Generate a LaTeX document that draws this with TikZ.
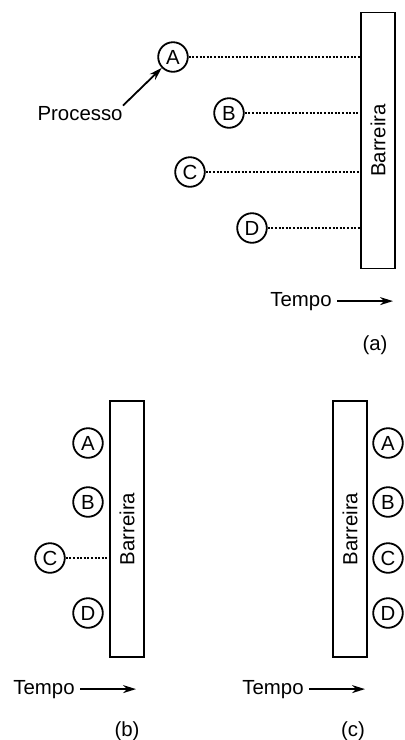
\documentclass[tikz,border=0pt]{standalone}
\usepackage{fontspec}
\setmainfont{Liberation Sans}
\usetikzlibrary{arrows.meta}

\begin{document}
\begin{tikzpicture}[x=0.5pt, y=-0.5pt,
  processo/.style={circle, draw, line width=0.9pt, minimum size=14.8pt, inner sep=0pt, font=\fontsize{10.2}{12}\selectfont},
  barreira/.style={draw, line width=0.85pt, rotate=90, minimum width=128pt, minimum height=17pt, inner sep=0pt, font=\fontsize{10.2}{12}\selectfont},
  espera/.style={line width=0.8pt, dash pattern=on 1pt off 0.8pt},
  seta/.style={line width=0.9pt, -{Stealth[length=6.5pt, width=4pt]}},
  rotulo/.style={inner sep=0pt, font=\fontsize{10.2}{12}\selectfont}]
  \useasboundingbox (0,0) rectangle (404,740);
  % (a)
  \node[barreira] (barA) at (378,140.5) {Barreira};
  \node[processo] (aA) at (173,57) {A};
  \node[processo] (aB) at (229,113) {B};
  \node[processo] (aC) at (190,172) {C};
  \node[processo] (aD) at (252,228) {D};
  \draw[espera] (aA) -- (aA -| barA.north);
  \draw[espera] (aB) -- (aB -| barA.north);
  \draw[espera] (aC) -- (aC -| barA.north);
  \draw[espera] (aD) -- (aD -| barA.north);
  \node[rotulo, anchor=base east] (lblproc) at (123,120) {Processo};
  \draw[seta] (lblproc.north east) -- (aA);
  \node[rotulo, anchor=base east] (tempoA) at (332,306) {Tempo};
  \coordinate (tA) at ([xshift=30.5pt]tempoA.east);
  \draw[seta] ([xshift=2.5pt]tempoA.east) -- (tA);
  \node[rotulo] (legA) at (375,345) {(a)};
  % (b)
  \node[barreira] (barB) at (127,529) {Barreira};
  \node[processo] (bA) at (88,443) {A};
  \node[processo] (bB) at (88,502) {B};
  \node[processo] (bC) at (50,558) {C};
  \node[processo] (bD) at (88,613) {D};
  \draw[espera] (bC) -- (bC -| barB.north);
  \node[rotulo, anchor=base east] (tempoB) at (75,694) {Tempo};
  \coordinate (tB) at ([xshift=30.5pt]tempoB.east);
  \draw[seta] ([xshift=2.5pt]tempoB.east) -- (tB);
  \node[rotulo] (legB) at (127,731) {(b)};
  % (c)
  \node[barreira] (barC) at (350,529) {Barreira};
  \node[processo] (cA) at (388,443) {A};
  \node[processo] (cB) at (388,502) {B};
  \node[processo] (cC) at (388,558) {C};
  \node[processo] (cD) at (388,613) {D};
  \node[rotulo, anchor=base east] (tempoC) at (304,694) {Tempo};
  \coordinate (tC) at ([xshift=30.5pt]tempoC.east);
  \draw[seta] ([xshift=2.5pt]tempoC.east) -- (tC);
  \node[rotulo] (legC) at (353,731) {(c)};
\end{tikzpicture}
\end{document}
